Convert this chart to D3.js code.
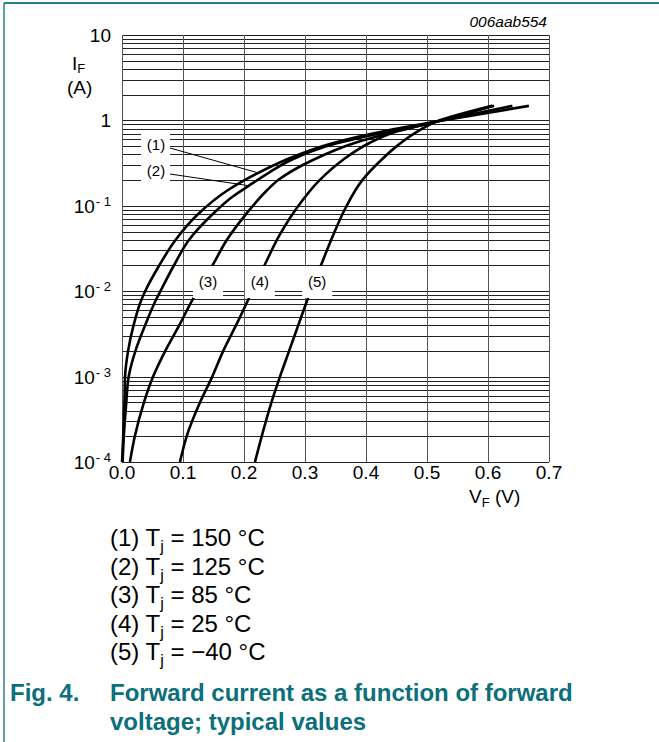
<!DOCTYPE html>
<html>
<head>
<meta charset="utf-8">
<script src="https://cdn.jsdelivr.net/npm/d3@7"></script>
<style>
  body { margin: 0; background: #fff; }
  svg { display: block; font-family: "Liberation Sans", Arial, sans-serif; }
</style>
</head>
<body>
<div id="chart"></div>
<script>
// forward voltage (V) vs forward current (A), one array per junction temperature
const curve150 = [[0.000,1e-4],[0.002,2e-4],[0.004,5e-4],[0.005,1e-3],[0.010,2e-3],[0.019,4e-3],[0.032,8e-3],[0.038,1e-2],[0.061,0.02],[0.088,0.04],[0.124,0.079],[0.172,0.15],[0.222,0.24],[0.268,0.344],[0.345,0.54],[0.435,0.76],[0.516,0.97],[0.667,1.48]];
const curve125 = [[0.001,1e-4],[0.003,2e-4],[0.007,5e-4],[0.011,1e-3],[0.022,2e-3],[0.038,4e-3],[0.056,8e-3],[0.063,1e-2],[0.085,0.02],[0.110,0.04],[0.148,0.079],[0.180,0.126],[0.207,0.17],[0.243,0.25],[0.277,0.344],[0.352,0.54],[0.445,0.76],[0.516,0.97],[0.64,1.48]];
const curve85  = [[0.013,1e-4],[0.021,2e-4],[0.036,5e-4],[0.051,1e-3],[0.071,2e-3],[0.094,4e-3],[0.116,8e-3],[0.124,1e-2],[0.150,0.021],[0.172,0.04],[0.204,0.081],[0.237,0.15],[0.256,0.2],[0.313,0.344],[0.38,0.54],[0.455,0.76],[0.516,0.97],[0.607,1.48]];
const curve25  = [[0.095,1e-4],[0.106,2e-4],[0.128,5e-4],[0.148,1e-3],[0.166,2e-3],[0.187,4e-3],[0.207,8e-3],[0.213,1e-2],[0.232,0.019],[0.258,0.045],[0.286,0.093],[0.324,0.2],[0.362,0.344],[0.405,0.54],[0.455,0.76],[0.516,0.97],[0.61,1.48]];
const curveM40 = [[0.218,1e-4],[0.229,2e-4],[0.245,5e-4],[0.259,1e-3],[0.274,2e-3],[0.289,4e-3],[0.304,8e-3],[0.309,1e-2],[0.326,0.02],[0.343,0.04],[0.366,0.093],[0.394,0.2],[0.425,0.344],[0.452,0.51],[0.48,0.71],[0.516,0.97],[0.607,1.48]];

const curves = [curve150, curve125, curve85, curve25, curveM40];
const curveIds = ["(1)", "(2)", "(3)", "(4)", "(5)"];
const legendTemps = ["150 °C", "125 °C", "85 °C", "25 °C", "\u221240 °C"];

const xTicks = [0, 0.1, 0.2, 0.3, 0.4, 0.5, 0.6, 0.7];
const yDecades = [1e-4, 1e-3, 1e-2, 1e-1, 1, 10];
const yExponents = ["-4", "-3", "-2", "-1", null, null];

// label anchors on the curves (V, A)
const boxedLabels = [[0.141, 0.0128], [0.226, 0.0128], [0.320, 0.0128]];
const leaderEnds = [[0.224, 0.242], [0.21, 0.171]];

const W = 659, H = 742;
const plot = { left: 122, right: 549, top: 35, bottom: 462 };
const teal = "#0b6f7c";

const svg = d3.select("#chart").append("svg")
    .attr("width", W)
    .attr("height", H);

svg.append("rect").attr("width", W).attr("height", H).attr("fill", "#fff");

// page frame (top and left rule)
svg.append("line").attr("x1", 4).attr("x2", W).attr("y1", 3).attr("y2", 3)
    .attr("stroke", "#2a7f8c").attr("stroke-width", 2);
svg.append("line").attr("x1", 4).attr("x2", 4).attr("y1", 3).attr("y2", H)
    .attr("stroke", "#2a7f8c").attr("stroke-width", 1.5);

const x = d3.scaleLinear().domain([0, 0.7]).range([plot.left, plot.right]);
const y = d3.scaleLog().domain([1e-4, 10]).range([plot.bottom, plot.top]);

// horizontal grid: every 1..9 x decade
const hLines = [];
yDecades.slice(0, -1).forEach(d => {
    for (let k = 1; k < 10; k++) hLines.push(d * k);
});
hLines.push(10);

svg.append("g")
    .selectAll("line")
    .data(hLines)
    .join("line")
    .attr("x1", plot.left).attr("x2", plot.right)
    .attr("y1", d => Math.round(y(d)) + 0.5).attr("y2", d => Math.round(y(d)) + 0.5)
    .attr("stroke", "#222").attr("stroke-width", 1);

svg.append("g")
    .selectAll("line")
    .data(xTicks)
    .join("line")
    .attr("x1", d => Math.round(x(d)) + 0.5).attr("x2", d => Math.round(x(d)) + 0.5)
    .attr("y1", plot.top).attr("y2", plot.bottom)
    .attr("stroke", "#555").attr("stroke-width", 1);

// x tick labels
svg.append("g")
    .selectAll("text")
    .data(xTicks)
    .join("text")
    .attr("x", d => x(d))
    .attr("y", 479)
    .attr("text-anchor", "middle")
    .style("font-size", "19px")
    .text(d => d.toFixed(1));

// y tick labels
const yLab = svg.append("g")
    .selectAll("text")
    .data(yDecades)
    .join("text")
    .attr("x", 111)
    .attr("y", d => y(d) + 7)
    .attr("text-anchor", "end")
    .style("font-size", "19px");
yLab.each(function (d, i) {
    const t = d3.select(this);
    if (yExponents[i] === null) {
        t.text(d >= 10 ? "10" : "1");
    } else {
        t.append("tspan").text("10");
        t.append("tspan").attr("dx", 1).attr("dy", -7).style("font-size", "13px")
            .text(yExponents[i].replace("-", "- "));
    }
});

// axis titles
const yTitle = svg.append("text").attr("x", 72).attr("y", 70).style("font-size", "19px");
yTitle.append("tspan").text("I");
yTitle.append("tspan").attr("dy", 3).style("font-size", "13px").text("F");
svg.append("text").attr("x", 67).attr("y", 94).style("font-size", "19px").text("(A)");

const xTitle = svg.append("text").attr("x", 469).attr("y", 503).style("font-size", "19px");
xTitle.append("tspan").text("V");
xTitle.append("tspan").attr("dy", 4).style("font-size", "13px").text("F");
xTitle.append("tspan").attr("dy", -4).text(" (V)");

svg.append("text")
    .attr("x", 547).attr("y", 27)
    .attr("text-anchor", "end")
    .style("font-size", "15.5px")
    .style("font-style", "italic")
    .text("006aab554");

// curves
const line = d3.line()
    .x(d => x(d[0]))
    .y(d => y(d[1]))
    .curve(d3.curveMonotoneY);

svg.append("g")
    .selectAll("path")
    .data(curves)
    .join("path")
    .attr("d", line)
    .attr("fill", "none")
    .attr("stroke", "#000")
    .attr("stroke-width", 2.6)
    .attr("stroke-linecap", "butt");

// labels (1), (2) with leaders
svg.append("rect").attr("x", 141).attr("y", 131).attr("width", 29).attr("height", 53).attr("fill", "#fff");
[145, 171].forEach((ty, i) => {
    svg.append("line")
        .attr("x1", 170).attr("y1", ty + 3)
        .attr("x2", x(leaderEnds[i][0])).attr("y2", y(leaderEnds[i][1]))
        .attr("stroke", "#000").attr("stroke-width", 1);
    svg.append("text")
        .attr("x", 156).attr("y", ty + 5)
        .attr("text-anchor", "middle")
        .style("font-size", "15px")
        .text(curveIds[i]);
});

// labels (3), (4), (5) sitting on the curves
boxedLabels.forEach((p, i) => {
    const cx = x(p[0]), cy = y(p[1]);
    svg.append("rect")
        .attr("x", cx - 15).attr("y", cy - 16)
        .attr("width", 30).attr("height", 32)
        .attr("fill", "#fff");
    svg.append("text")
        .attr("x", cx).attr("y", cy + 5)
        .attr("text-anchor", "middle")
        .style("font-size", "15px")
        .text(curveIds[i + 2]);
});

// legend
legendTemps.forEach((t, i) => {
    const tx = svg.append("text")
        .attr("x", 110).attr("y", 546 + i * 28.5)
        .style("font-size", "24px");
    tx.append("tspan").text(curveIds[i] + " T");
    tx.append("tspan").attr("dy", 6).style("font-size", "16px").text("j");
    tx.append("tspan").attr("dy", -6).text(" = " + t);
});

// caption
svg.append("text").attr("x", 10).attr("y", 701)
    .attr("fill", teal).style("font-size", "24px").style("font-weight", "bold")
    .text("Fig. 4.");
svg.append("text").attr("x", 110).attr("y", 701)
    .attr("fill", teal).style("font-size", "24px").style("font-weight", "bold")
    .text("Forward current as a function of forward");
svg.append("text").attr("x", 110).attr("y", 730)
    .attr("fill", teal).style("font-size", "24px").style("font-weight", "bold")
    .text("voltage; typical values");
</script>
</body>
</html>
